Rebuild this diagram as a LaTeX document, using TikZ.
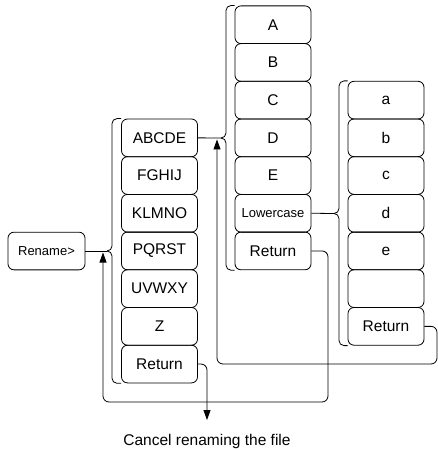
\documentclass[tikz,border=0pt]{standalone}
\usepackage{fontspec}
\setmainfont{Liberation Sans}
\usetikzlibrary{arrows.meta}

\begin{document}
\begin{tikzpicture}[x=1pt,y=-1pt,line width=0.8pt,
    key/.style={draw, rounded corners=6pt, minimum width=76pt, minimum height=37.7pt,
        inner sep=0pt, font=\fontsize{15.5}{18}\selectfont},
    smallkey/.style={key, font=\fontsize{13}{15}\selectfont},
    brace/.style={rounded corners=5pt},
    back/.style={rounded corners=6pt, -{Triangle[length=10pt,width=7pt]}}]
    \useasboundingbox (0,0) rectangle (438,449);

    \node[smallkey, minimum width=77pt] (rename) at (46.5,251) {Rename>};

    % letter groups
    \foreach \t [count=\i] in {ABCDE,FGHIJ,KLMNO,PQRST,UVWXY,Z,Return}
        \node[key] (g\i) at (159.5,{119+(\i-0.5)*37.7}) {\t};
    % upper case
    \foreach \t [count=\i] in {A,B,C,D,E,{\fontsize{13}{15}\selectfont Lowercase},Return}
        \node[key] (u\i) at (273,{5.9+(\i-0.5)*37.7}) {\t};
    % lower case
    \foreach \t [count=\i] in {a,b,c,d,e,{},Return}
        \node[key] (l\i) at (386,{81.3+(\i-0.5)*37.7}) {\t};

    % brackets
    \coordinate (b1) at (112,251);
    \draw[brace] (g1.north west) -| (b1) -- ++(-5,0);
    \draw[brace] (g7.south west) -| (b1) -- ++(-5,0);
    \draw (rename.east) -- ([xshift=-5pt]b1);

    \coordinate (b2) at (226,138);
    \draw[brace] (u1.north west) -| (b2) -- ++(-5,0);
    \draw[brace] (u7.south west) -| (b2) -- ++(-5,0);
    \draw (g1.east) -- ([xshift=-5pt]b2);

    \coordinate (b3) at (339,213.5);
    \draw[brace] (l1.north west) -| (b3) -- ++(-5,0);
    \draw[brace] (l7.south west) -| (b3) -- ++(-5,0);
    \draw (u6.east) -- ([xshift=-5pt]b3);

    % returns
    \coordinate (in1) at (103,252.5);
    \coordinate (in2) at (217,139.5);
    \draw[back] (u7.east) -| (328,402) -| (in1);
    \draw[back] (l7.east) -| (437,364) -| (in2);

    \node[font=\fontsize{15.5}{18}\selectfont] (cancel) at (207,441) {Cancel renaming the file};
    \draw[back, shorten >=10pt] (g7.east) -| (cancel.north);
\end{tikzpicture}
\end{document}
